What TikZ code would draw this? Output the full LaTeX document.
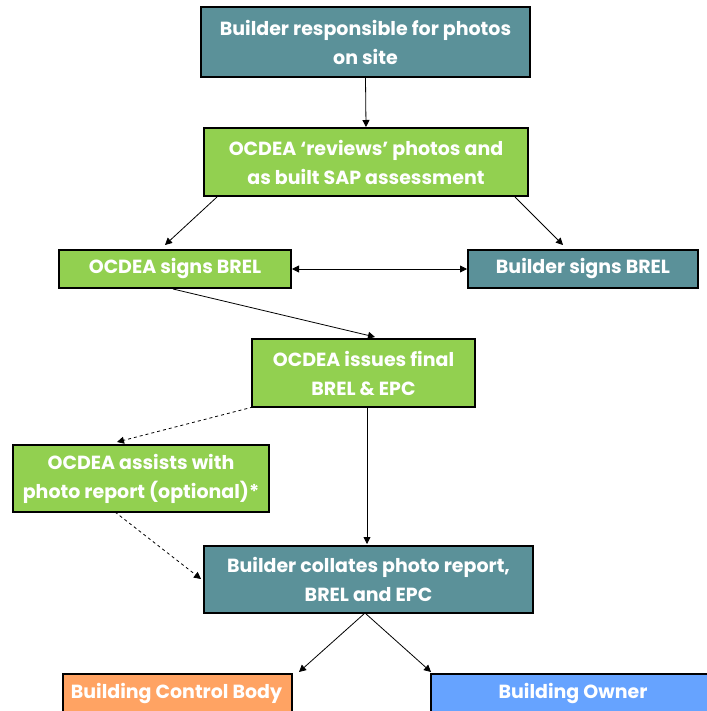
\documentclass[tikz,border=0pt]{standalone}
\usepackage{fontspec}
\setmainfont{Poppins}
\usetikzlibrary{arrows.meta}
\definecolor{teal1}{RGB}{91,145,153}
\definecolor{green1}{RGB}{146,208,80}
\definecolor{orange1}{RGB}{255,163,99}
\definecolor{blue1}{RGB}{102,163,255}
\tikzset{
  box/.style={draw=black, line width=2pt, text=white, font=\fontsize{19}{29}\selectfont\bfseries, align=center, inner sep=0pt, anchor=north west},
  lbl/.style={text=white, font=\fontsize{19}{29}\selectfont\bfseries},
  conn/.style={-{Triangle[length=7pt,width=7pt]}, line width=0.8pt},
  dconn/.style={conn, dashed},
}
\begin{document}
\begin{tikzpicture}[x=1pt,y=-1pt]
\useasboundingbox (0,0) rectangle (706,711);
\node[box, fill=teal1, minimum width=329pt, minimum height=70pt] (a) at (200,6) {Builder responsible for photos\\on site};
\node[box, fill=green1, minimum width=324pt, minimum height=68pt] (b) at (203,127) {OCDEA ‘reviews’ photos and\\as built SAP assessment};
\node[box, fill=green1, minimum width=232pt, minimum height=38pt] (c) at (58,249) {OCDEA signs BREL};
\node[box, fill=teal1, minimum width=230pt, minimum height=38pt] (d) at (467,249) {Builder signs BREL};
\node[box, fill=green1, minimum width=223pt, minimum height=68pt] (e) at (251,338) {OCDEA issues final\\BREL \& EPC};
\node[box, fill=green1, minimum width=256pt, minimum height=67pt] (f) at (12,444) {OCDEA assists with\\photo report (optional)*};
\node[box, fill=teal1, minimum width=329pt, minimum height=67pt] (g) at (203,545) {Builder collates photo report,\\BREL and EPC};
\node[box, fill=orange1, minimum width=229pt, minimum height=50pt] (h) at (62,673) {};
\node[box, fill=blue1, minimum width=290pt, minimum height=50pt] (i) at (430,673) {};
\node[lbl] (ht) at (176.5,693) {Building Control Body};
\node[lbl] (it) at (573,693) {Building Owner};
\draw[conn] (a.south) -- (b.north);
\coordinate (b1) at (217,197);
\coordinate (b1e) at (165,245);
\coordinate (b2) at (515,197);
\coordinate (b2e) at (563,245);
\draw[conn] (b1) -- (b1e);
\draw[conn] (b2) -- (b2e);
\draw[{Triangle[length=7pt,width=7pt]}-{Triangle[length=7pt,width=7pt]}, line width=0.8pt] (c.east) -- (d.west);
\coordinate (c3) at (173,289);
\coordinate (e1) at (375,337);
\draw[conn] (c3) -- (e1);
\coordinate (e2) at (253,407);
\coordinate (f1) at (117,442);
\draw[dconn] (e2) -- (f1);
\coordinate (e3) at (367,407);
\coordinate (g1) at (367,544);
\draw[conn] (e3) -- (g1);
\coordinate (f2) at (115,512);
\coordinate (g2) at (201,579);
\draw[dconn] (f2) -- (g2);
\coordinate (g3) at (365,613);
\coordinate (h1) at (299,672);
\coordinate (i1) at (431,672);
\draw[conn] (g3) -- (h1);
\draw[conn] (g3) -- (i1);
\end{tikzpicture}
\end{document}
